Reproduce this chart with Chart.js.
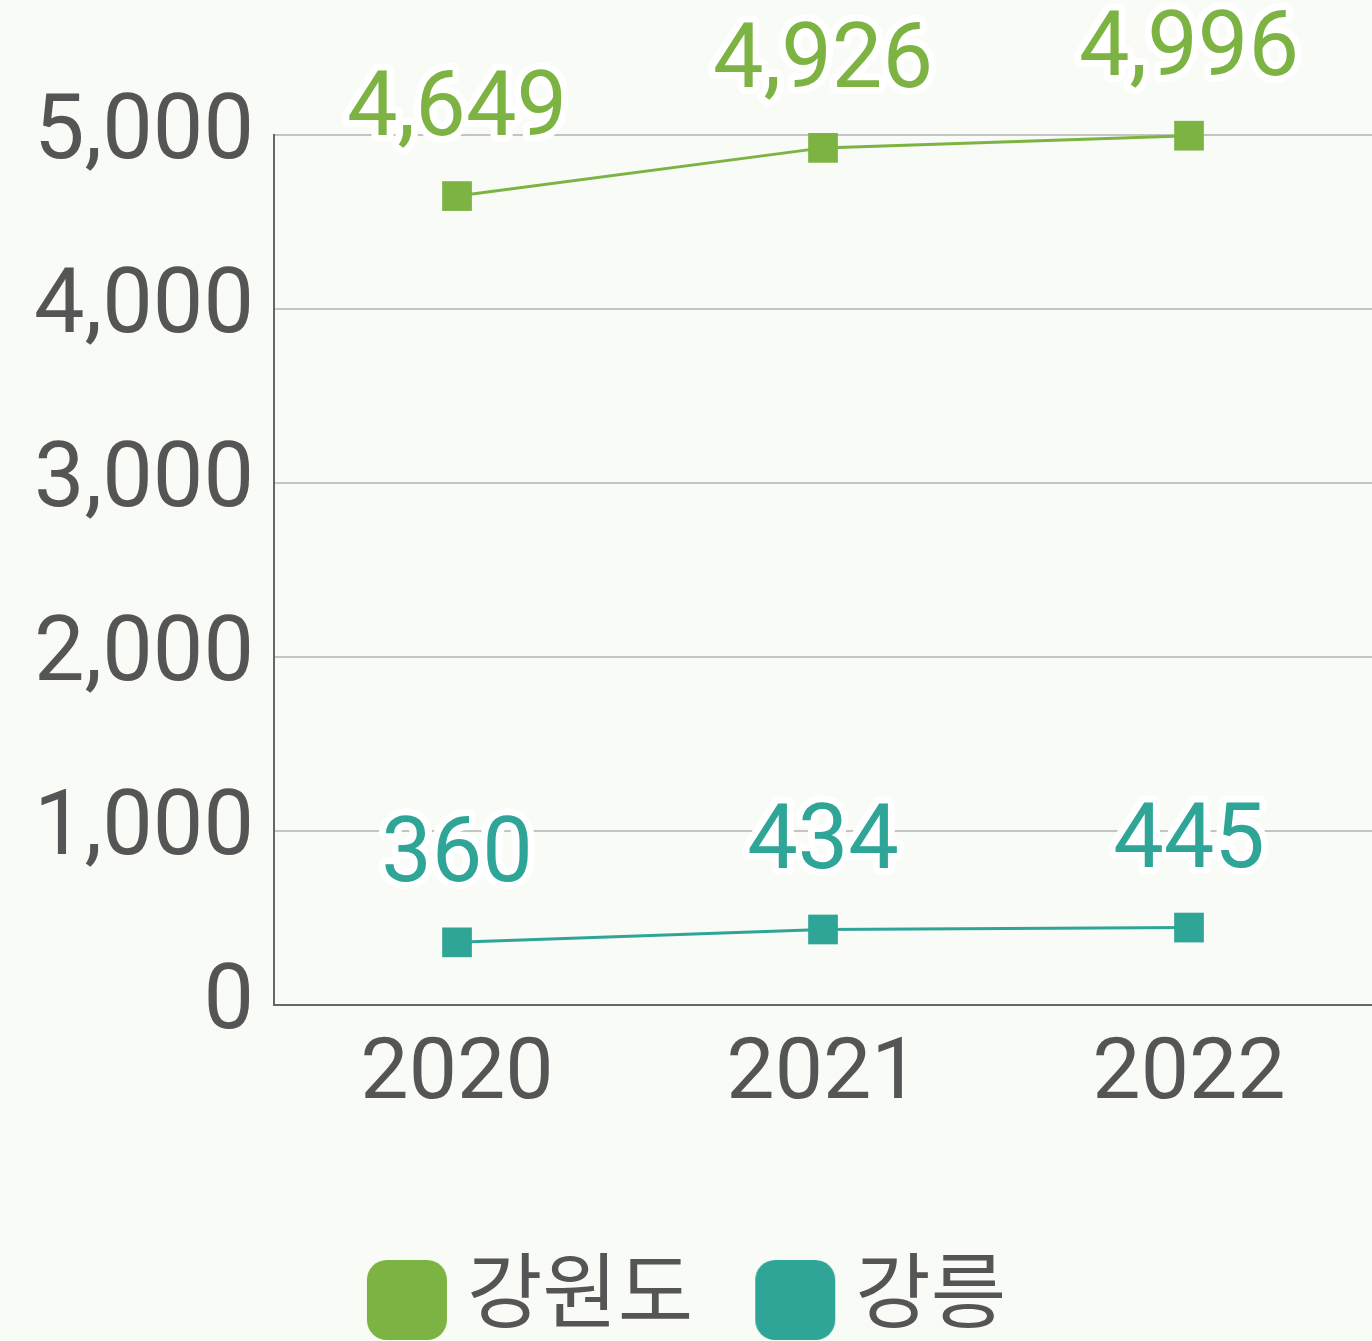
<!DOCTYPE html>
<html>
<head>
<meta charset="utf-8">
<script src="https://cdn.jsdelivr.net/npm/chart.js@4/dist/chart.umd.min.js"></script>
<style>
  html, body { margin: 0; padding: 0; background: #f9fbf6; }
  #wrap { width: 1372px; height: 1341px; }
</style>
</head>
<body>
<div id="wrap"><canvas id="chart" width="1372" height="1341"></canvas></div>
<script>
const years = ['2020', '2021', '2022'];
const gangwon = [4649, 4926, 4996];
const gangneung = [360, 434, 445];
const seriesNames = ['강원도', '강릉'];
const yTicks = [0, 1000, 2000, 3000, 4000, 5000];

const GREEN = '#7cb342';
const TEAL = '#2ea597';
const GREY = '#555555';

// 범례용 둥근 사각형 (아래로 살짝 내려서 그림)
function legendBox(color) {
    const c = document.createElement('canvas');
    c.width = 96; c.height = 116;
    const g = c.getContext('2d');
    g.fillStyle = color;
    g.beginPath();
    g.roundRect(12, 28, 80, 80, 20);
    g.fill();
    return c;
}

// 점 위에 값 표시 (흰 테두리)
const valueLabels = {
    id: 'valueLabels',
    afterDatasetsDraw(chart) {
        const ctx = chart.ctx;
        ctx.save();
        ctx.font = "90px Roboto";
        ctx.textAlign = 'center';
        ctx.textBaseline = 'alphabetic';
        ctx.lineJoin = 'round';
        chart.data.datasets.forEach((ds, i) => {
            const meta = chart.getDatasetMeta(i);
            meta.data.forEach((pt, j) => {
                const txt = ds.data[j].toLocaleString('en-US');
                const y = pt.y - 61;
                ctx.lineWidth = 14;
                ctx.strokeStyle = '#ffffff';
                ctx.strokeText(txt, pt.x, y);
                ctx.fillStyle = ds.borderColor;
                ctx.fillText(txt, pt.x, y);
            });
        });
        ctx.restore();
    }
};

new Chart(document.getElementById('chart'), {
    type: 'line',
    data: {
        labels: years,
        datasets: [
            {
                label: seriesNames[0], data: gangwon, clip: false,
                borderColor: GREEN, backgroundColor: GREEN, borderWidth: 3,
                pointStyle: 'rect', pointRadius: 21, pointHoverRadius: 21, pointBorderWidth: 0
            },
            {
                label: seriesNames[1], data: gangneung, clip: false,
                borderColor: TEAL, backgroundColor: TEAL, borderWidth: 3,
                pointStyle: 'rect', pointRadius: 21, pointHoverRadius: 21, pointBorderWidth: 0
            }
        ]
    },
    options: {
        responsive: false,
        animation: false,
        locale: 'en-US',
        layout: { autoPadding: false, padding: { top: 135, right: 0, left: 14, bottom: 0 } },
        scales: {
            x: {
                offset: true,
                grid: { display: false, drawTicks: false },
                border: { display: true, color: '#666666', width: 2 },
                ticks: { color: GREY, font: { family: 'Roboto', size: 86 }, padding: 20 },
                afterFit: s => { s.height = 169; }
            },
            y: {
                min: 0, max: 5000,
                afterBuildTicks: axis => { axis.ticks = yTicks.map(v => ({ value: v })); },
                grid: { color: '#c4c4c4', lineWidth: 2, drawTicks: false },
                border: { display: true, color: '#666666', width: 2 },
                ticks: { color: GREY, font: { family: 'Roboto', size: 90 }, padding: 20 }
            }
        },
        plugins: {
            legend: {
                position: 'bottom',
                labels: {
                    color: GREY,
                    font: { family: "'Noto Sans CJK KR'", size: 82 },
                    usePointStyle: true,
                    pointStyleWidth: 46,
                    padding: 75,
                    generateLabels: chart => chart.data.datasets.map((ds, i) => ({
                        text: ds.label,
                        fontColor: GREY,
                        pointStyle: legendBox(ds.borderColor),
                        fillStyle: ds.borderColor,
                        strokeStyle: ds.borderColor,
                        lineWidth: 0,
                        hidden: false,
                        datasetIndex: i
                    }))
                }
            },
            tooltip: { enabled: false }
        }
    },
    plugins: [valueLabels]
});
</script>
</body>
</html>
